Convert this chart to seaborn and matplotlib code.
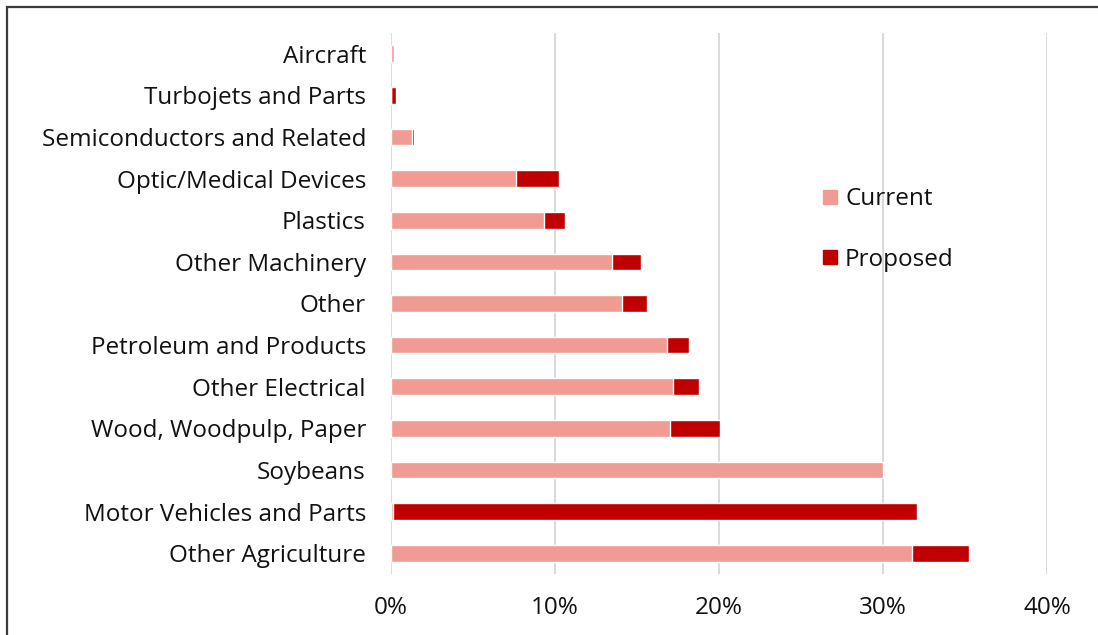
import matplotlib
matplotlib.use("Agg")
import matplotlib.pyplot as plt
import seaborn as sns
import numpy as np
import pandas as pd
from matplotlib.patches import Rectangle
from matplotlib.lines import Line2D
from matplotlib.ticker import FuncFormatter

categories = ["Aircraft", "Turbojets and Parts", "Semiconductors and Related",
              "Optic/Medical Devices", "Plastics", "Other Machinery", "Other",
              "Petroleum and Products", "Other Electrical", "Wood, Woodpulp, Paper",
              "Soybeans", "Motor Vehicles and Parts", "Other Agriculture"]
current = [0.2, 0.0, 1.3, 7.6, 9.35, 13.5, 14.1, 16.8, 17.2, 17.0, 30.0, 0.1, 31.75]
proposed = [0.05, 0.3, 0.1, 2.65, 1.25, 1.75, 1.5, 1.35, 1.6, 3.05, 0.0, 32.0, 3.5]
xticks = [0, 10, 20, 30, 40]

pale = "#F09C92"
dark = "#C00000"

sns.set_theme(style="white")
plt.rcParams["font.family"] = ["Open Sans", "DejaVu Sans"]

df = pd.DataFrame({"cat": categories, "current": current, "proposed": proposed})
df["total"] = df["current"] + df["proposed"]

fig = plt.figure(figsize=(10.98, 6.35), dpi=100)
ax = fig.add_axes([391/1098, 1-574/635, (1047-391)/1098, (574-33)/635])

sns.barplot(data=df, x="total", y="cat", color=dark, width=0.4, saturation=1,
            orient="h", ax=ax)
sns.barplot(data=df, x="current", y="cat", color=pale, width=0.4, saturation=1,
            orient="h", ax=ax)

ax.set_xlim(0, 40)
ax.set_xticks(xticks)
ax.xaxis.set_major_formatter(FuncFormatter(lambda v, p: f"{int(v)}%"))
ax.grid(axis="x", color="#D9D9D9", linewidth=1.4)
ax.set_axisbelow(True)
for s in ax.spines.values():
    s.set_visible(False)
ax.set_xlabel("")
ax.set_ylabel("")
ax.tick_params(axis="both", length=0, labelsize=17.5, colors="#111111")
ax.tick_params(axis="x", pad=16)
ax.tick_params(axis="y", pad=18)

handles = [Line2D([], [], marker="s", linestyle="", color=pale, markersize=10.5),
           Line2D([], [], marker="s", linestyle="", color=dark, markersize=10.5)]
leg = ax.legend(handles, ["Current", "Proposed"], loc="center left",
                bbox_to_anchor=(0.618, 0.637), frameon=False, fontsize=17.5,
                labelspacing=1.5, handletextpad=0.1, handlelength=1.0)
for t in leg.get_texts():
    t.set_color("#111111")

fig.patches.append(Rectangle((7/1098, -0.2), 1.5, 1.2 - 7/635,
                             transform=fig.transFigure, fill=False,
                             edgecolor="#3A3A3A", linewidth=1.6))

fig.savefig("out.png", dpi=100)
